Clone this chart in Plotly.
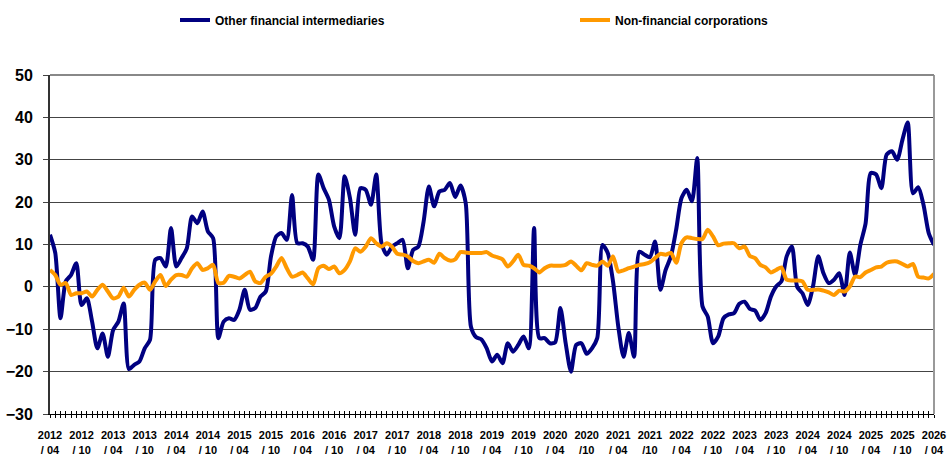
import plotly.graph_objects as go

# Monthly observations, April 2012 to April 2026 (annual growth, %)
ofi = [
    12.3, 8.0, -7.4, 1.3, 2.8, 5.6, -4.3, -2.7, -8.2, -14.5, -11.0, -16.5,
    -10.2, -8.2, -3.9, -19.4, -18.4, -17.6, -14.5, -12.5, 6.4, 6.8, 4.8, 13.9,
    4.8, 6.8, 9.1, 16.6, 15.0, 17.8, 13.1, 11.5, -12.1, -8.2, -7.4, -7.8,
    -5.4, -0.7, -5.4, -5.0, -2.3, -1.1, 7.2, 11.9, 12.7, 11.1, 21.7, 10.3,
    10.3, 9.5, 6.4, 26.5, 23.3, 20.6, 14.3, 11.5, 26.1, 21.0, 12.3, 23.3,
    22.9, 19.4, 26.5, 10.3, 7.6, 9.5, 10.3, 11.1, 4.4, 8.7, 9.5, 15.4,
    23.7, 19.0, 22.5, 22.9, 24.5, 21.2, 23.9, 19.8, -9.4, -11.9, -12.4, -14.5,
    -17.6, -16.0, -18.0, -13.3, -15.3, -13.7, -11.7, -14.5, 13.9, -12.1, -12.1, -13.3,
    -13.1, -5.0, -13.3, -20.0, -13.7, -13.3, -15.8, -14.5, -12.1, 9.9, 8.0, 1.3,
    -9.4, -16.5, -10.9, -16.5, 8.3, 7.6, 7.0, 10.7, -0.7, 4.0, 7.2, 13.5,
    20.9, 22.9, 20.2, 30.4, -4.6, -7.0, -13.3, -11.7, -7.4, -6.5, -6.2, -4.0,
    -3.5, -5.2, -5.6, -7.8, -6.2, -2.3, 0.1, 1.3, 7.2, 9.5, 0.0, -1.5,
    -4.3, 0.1, 7.2, 3.2, 0.9, 1.7, 3.2, -1.9, 8.1, 2.8, 9.9, 15.0,
    26.9, 26.5, 23.3, 31.2, 32.0, 30.0, 34.7, 38.8, 22.1, 23.5, 19.4, 12.7,
    9.9,
]

nfc = [
    4.0, 2.8, 0.5, 0.9, -1.9, -1.5, -1.5, -1.1, -2.3, -0.7, 0.5, -1.1,
    -2.7, -2.3, -0.2, -2.3, -0.7, 0.5, 1.0, -0.7, 1.3, 2.8, 0.2, 1.7,
    2.8, 2.8, 2.4, 4.4, 5.6, 4.0, 4.4, 5.2, 0.9, 1.0, 2.6, 2.4,
    2.0, 2.8, 3.6, 1.3, 0.9, 2.4, 3.1, 4.8, 6.8, 4.4, 2.4, 2.8,
    3.4, 2.0, 0.6, 4.4, 5.0, 4.2, 4.8, 3.2, 4.0, 6.0, 9.1, 8.3,
    9.5, 11.5, 10.3, 9.5, 10.3, 9.5, 7.8, 7.6, 7.2, 6.1, 5.6, 6.0,
    6.4, 5.7, 7.8, 6.8, 6.2, 6.5, 8.2, 8.1, 8.0, 8.0, 8.0, 8.2,
    7.4, 7.0, 6.5, 4.8, 6.0, 7.6, 5.2, 5.0, 4.4, 3.4, 4.4, 5.0,
    5.0, 5.0, 5.2, 6.0, 5.0, 3.9, 5.6, 5.2, 5.0, 6.0, 5.0, 7.2,
    3.6, 3.9, 4.4, 4.8, 5.2, 5.4, 5.8, 6.8, 7.8, 7.6, 8.0, 5.7,
    10.3, 11.7, 11.5, 11.3, 11.3, 13.5, 11.9, 9.8, 10.2, 10.3, 10.3, 9.1,
    9.5, 7.3, 6.8, 5.2, 4.6, 3.4, 4.0, 4.6, 1.7, 1.5, 1.5, 1.3,
    -0.7, -0.7, -0.6, -0.9, -1.3, -1.9, -0.9, -1.1, 0.1, 2.4, 2.3, 3.4,
    4.0, 4.6, 4.8, 5.7, 6.0, 6.0, 5.4, 4.8, 5.4, 2.4, 2.2, 2.0,
    3.1,
]

# Half-yearly axis labels (year on the first line, month on the second)
label_years = [
    "2012", "2012", "2013", "2013", "2014", "2014", "2015", "2015",
    "2016", "2016", "2017", "2017", "2018", "2018", "2019", "2019",
    "2020", "2020", "2021", "2021", "2022", "2022", "2023", "2023",
    "2024", "2024", "2025", "2025", "2026",
]
label_months = [
    "/ 04", "/ 10", "/ 04", "/ 10", "/ 04", "/ 10", "/ 04", "/ 10",
    "/ 04", "/ 10", "/ 04", "/ 10", "/ 04", "/ 10", "/ 04", "/ 10",
    "/ 04", "/10", "/ 04", "/10", "/ 04", "/ 10", "/ 04", "/ 10",
    "/ 04", "/ 10", "/ 04", "/ 10", "/ 04",
]

months = list(range(len(ofi)))
half_years = [f"{y}<br>{m}" for y, m in zip(label_years, label_months)]
ticktext = [half_years[i // 6] if i % 6 == 0 else "" for i in months]

NAVY = "#000080"
ORANGE = "#FF9900"
FONT = "Liberation Sans, Arial, sans-serif"

fig = go.Figure()
fig.add_trace(go.Scatter(
    x=months, y=ofi, mode="lines", name="Other financial intermediaries",
    line=dict(color=NAVY, width=4, shape="spline", smoothing=0.7),
    legend="legend",
))
fig.add_trace(go.Scatter(
    x=months, y=nfc, mode="lines", name="Non-financial corporations",
    line=dict(color=ORANGE, width=4, shape="spline", smoothing=0.7),
    legend="legend2",
))
# Invisible trace on the overlay axis so its tick marks are rendered
fig.add_trace(go.Scatter(
    x=[months[0], months[-1]], y=[0, 0], xaxis="x2", mode="lines",
    line=dict(width=0), showlegend=False, hoverinfo="skip",
))

legend_style = dict(
    orientation="h", xanchor="left", yanchor="middle",
    xref="container", yref="container", y=(458 - 20) / 458,
    font=dict(size=12, family=FONT, weight="bold"),
    bgcolor="rgba(0,0,0,0)", borderwidth=0,
)

fig.update_layout(
    width=952, height=458,
    margin=dict(l=50, r=18, t=75, b=44, autoexpand=False),
    paper_bgcolor="white", plot_bgcolor="white",
    font=dict(family=FONT, color="black"),
    showlegend=True,
    legend=dict(x=175 / 952, **legend_style),
    legend2=dict(x=575 / 952, **legend_style),
    xaxis=dict(
        range=[months[0], months[-1]],
        tickmode="array", tickvals=months, ticktext=ticktext,
        ticks="outside", ticklen=3, tickwidth=1, tickcolor="black",
        tickangle=0, ticklabelstandoff=8,
        tickfont=dict(size=11, family=FONT, weight="bold"),
        showgrid=False, zeroline=False,
        showline=True, linecolor="black", linewidth=1,
    ),
    xaxis2=dict(
        range=[months[0], months[-1]], overlaying="x", side="bottom",
        tickmode="array", tickvals=months, showticklabels=False,
        ticks="inside", ticklen=3, tickwidth=1, tickcolor="black",
        showgrid=False, zeroline=False, showline=False,
    ),
    yaxis=dict(
        range=[-30, 50], dtick=10, tick0=0,
        ticks="outside", ticklen=5, tickcolor="#444444",
        ticklabelstandoff=7,
        tickfont=dict(size=16, family=FONT, weight="bold"),
        showgrid=True, gridcolor="#444444", gridwidth=1,
        zeroline=False,
        showline=True, linecolor="#333333", linewidth=2,
    ),
)

# Gray frame on the top and right of the plotting area
fig.add_shape(type="line", xref="paper", yref="paper", x0=1, x1=1, y0=0, y1=1,
              line=dict(color="#999999", width=2))
fig.add_shape(type="line", xref="paper", yref="paper", x0=0, x1=1, y0=1, y1=1,
              line=dict(color="#888888", width=2))

fig.write_html("out.html")
